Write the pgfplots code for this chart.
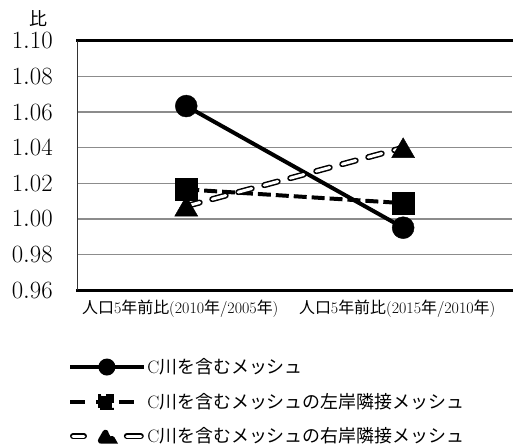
\documentclass[border=0pt]{standalone}
\usepackage{fontspec}
\usepackage{pgfplots}
\pgfplotsset{compat=1.18}
\newfontfamily\cjk{Noto Sans CJK JP}
\definecolor{gridgray}{RGB}{140,140,140}
\definecolor{axgray}{RGB}{50,50,50}
\begin{document}
\begin{tikzpicture}
\begin{axis}[
  scale only axis,
  width=435pt, height=250pt,
  xmin=0, xmax=2, ymin=0.96, ymax=1.10,
  axis x line*=box, axis y line*=left,
  x axis line style={line width=2.8pt, line cap=rect},
  y axis line style={line width=1.4pt, draw=axgray},
  ytick={0.96,0.98,1.00,1.02,1.04,1.06,1.08,1.10},
  yticklabel style={/pgf/number format/fixed, /pgf/number format/precision=2, /pgf/number format/fixed zerofill,
     font=\fontsize{23.6}{24}\selectfont, inner sep=0pt, anchor=east, xshift=-25pt},
  xtick={0.5,1.5},
  xticklabels={{{\cjk 人口}5{\cjk 年前比}(2010{\cjk 年}/2005{\cjk 年})},{{\cjk 人口}5{\cjk 年前比}(2015{\cjk 年}/2010{\cjk 年})}},
  xticklabel style={font=\fontsize{16}{17}\selectfont, inner sep=0pt, anchor=center, yshift=-19pt, xshift=-6pt},
  major tick length=0pt,
  ymajorgrids, grid style={gridgray, line width=1.5pt},
  clip=false,
  ylabel={\cjk 比},
  ylabel style={rotate=-90, at={(axis description cs:-0.09,1.088)}, anchor=center, font=\fontsize{18}{20}\selectfont},
  legend style={at={(axis description cs:-0.023,-0.268)}, anchor=north west, draw=none, fill=none,
     inner sep=0pt, row sep=15pt, font=\fontsize{18}{20}\selectfont,
     nodes={inner sep=1.5pt, anchor=west}},
  legend cell align=left,
]
\addplot[black, line width=4pt, mark=*, mark size=11pt, mark options={solid, line width=0.4pt},
  legend image code/.code={
    \draw[black, solid, line width=4pt] (0pt,0pt) -- (74pt,0pt);
    \fill[black] (37pt,0pt) circle (6.5pt);}]
  coordinates {(0.5,1.0634) (1.5,0.9951)};
\addlegendentry{C{\cjk 川を含むメッシュ}}
\addplot[black, line width=4pt, dash pattern=on 13pt off 5pt, mark=square*, mark size=11pt, mark options={solid, line width=0.4pt},
  legend image code/.code={
    \draw[black, solid, line width=4pt] (0pt,0pt) -- (15pt,0pt);
    \draw[black, solid, line width=4pt] (26pt,0pt) -- (32pt,0pt);
    \fill[black] (30pt,-6pt) rectangle (42pt,6pt);
    \draw[black, solid, line width=4pt] (49pt,0pt) -- (64pt,0pt);
    \path (74pt,0pt);}]
  coordinates {(0.5,1.0166) (1.5,1.0089)};
\addlegendentry{C{\cjk 川を含むメッシュの左岸隣接メッシュ}}
\addplot[black, line width=6pt, line cap=round, dash pattern=on 14pt off 13pt, mark=none,
  legend image code/.code={
    \draw[black, solid, line width=6pt, line cap=round] (3pt,0pt) -- (14pt,0pt);
    \draw[white, solid, line width=3pt, line cap=round] (3pt,0pt) -- (14pt,0pt);
    \fill[black] (31pt,-4.5pt) -- (43pt,-4.5pt) -- (37pt,6pt) -- cycle;
    \draw[black, solid, line width=6pt, line cap=round] (57pt,0pt) -- (71pt,0pt);
    \draw[white, solid, line width=3pt, line cap=round] (57pt,0pt) -- (71pt,0pt);}]
  coordinates {(0.5,1.0072) (1.5,1.0400)};
\addlegendentry{C{\cjk 川を含むメッシュの右岸隣接メッシュ}}
\addplot[white, line width=3pt, line cap=round, dash pattern=on 14pt off 13pt, mark=none, forget plot]
  coordinates {(0.5,1.0072) (1.5,1.0400)};
\addplot[black, only marks, mark=triangle*, mark size=13.3pt, mark options={solid, fill=black, line width=0.4pt, yshift=-3.3pt}, forget plot]
  coordinates {(0.5,1.0072) (1.5,1.0400)};
\path (rel axis cs:-0.1793,-0.624) rectangle (rel axis cs:1,1.164);
\end{axis}
\end{tikzpicture}
\end{document}
